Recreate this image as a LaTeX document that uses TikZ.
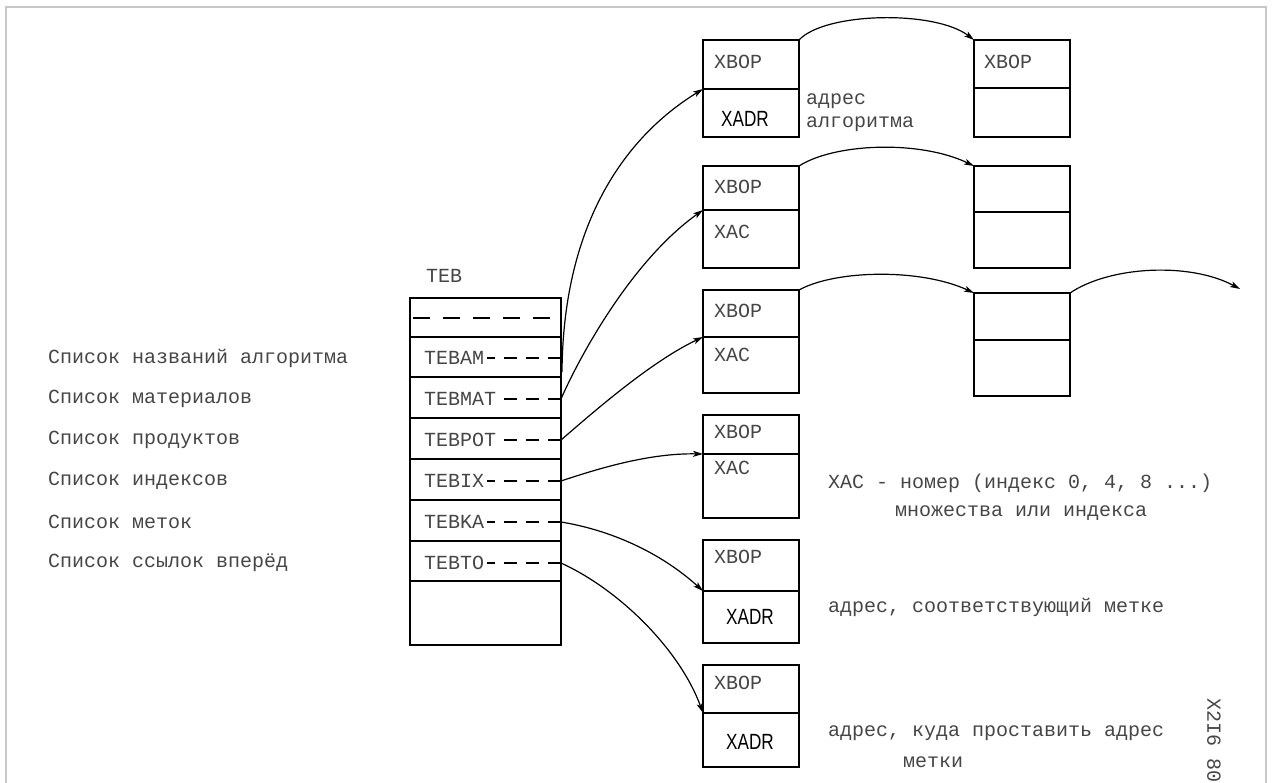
\documentclass[tikz,border=0pt]{standalone}
\usepackage{fontspec}
\setmainfont{Liberation Mono}
\newfontfamily\handfont{Liberation Sans}
\usetikzlibrary{arrows.meta}
\definecolor{framegray}{RGB}{200,200,200}
\definecolor{typeink}{RGB}{70,70,70}
\newcommand\mkcell[5]{%
  \pgfmathsetmacro\hA{#4-#3}\pgfmathsetmacro\hB{#5-#4}%
  \node[cell, minimum height=\hA pt] (#1t) at (#2,#3) {};
  \node[cell, minimum height=\hB pt] (#1b) at (#2,#4) {};}
\begin{document}
\begin{tikzpicture}[x=1pt,y=-1pt,
  cell/.style={draw, line width=1.5pt, minimum width=96pt, inner sep=0pt, outer sep=0pt, anchor=north west},
  tw/.style={font=\fontsize{20}{22}\selectfont, text=typeink, inner sep=0pt, anchor=west},
  hand/.style={font=\handfont\fontsize{22}{24}\selectfont, xscale=0.78, inner sep=0pt},
  link/.style={line width=1.2pt, -{Stealth[length=10pt,width=6pt,inset=2.5pt]}},
  tebline/.style={line width=1.5pt},
  tebdash/.style={line width=1.4pt, dash pattern=on 13pt off 9pt}
]
\useasboundingbox (0,0) rectangle (1273,783);
% frame
\draw[line width=2pt, framegray] (6,783) -- (6,7) -- (1266,7) -- (1266,783);

% TEB table
\node[tw] (teblbl) at (426,276) {TEB};
\node[draw, tebline, minimum width=151pt, minimum height=347pt, inner sep=0pt, outer sep=0pt, anchor=north west] (teb) at (410,298) {};
\draw[tebline, dash pattern=on 17pt off 13pt] (413,318) -- (561,318);
\foreach \yy in {337,377,418,459,500,541,581} \draw[tebline] (410,\yy) -- (561,\yy);
\node[tw] (tam)  at (424,358) {TEBAM};
\node[tw] (tmat) at (424,399) {TEBMAT};
\node[tw] (tpot) at (424,440) {TEBPOT};
\node[tw] (tix)  at (424,481) {TEBIX};
\node[tw] (tka)  at (424,522) {TEBKA};
\node[tw] (tto)  at (424,563) {TEBTO};
\foreach \n in {tam,tmat,tpot,tix,tka,tto}
  \draw[tebdash] (teb.east |- \n.east) -- ([xshift=3pt]\n.east);

% left labels
\node[tw] (l1) at (48,358) {Список названий алгоритма};
\node[tw] (l2) at (48,399) {Список материалов};
\node[tw] (l3) at (48,440) {Список продуктов};
\node[tw] (l4) at (48,481) {Список индексов};
\node[tw] (l5) at (48,522) {Список меток};
\node[tw] (l6) at (48,563) {Список ссылок вперёд};

% boxes, column 1
\mkcell{b1}{703}{40}{89}{137}
\mkcell{b2}{703}{166}{210}{268}
\mkcell{b3}{703}{290}{337}{393}
\mkcell{b4}{703}{415}{454}{518}
\mkcell{b5}{703}{540}{591}{643}
\mkcell{b6}{703}{665}{713}{767}
% column 2
\mkcell{c1}{974}{40}{88}{137}
\mkcell{c2}{974}{166}{212}{268}
\mkcell{c3}{974}{293}{340}{396}

% box texts
\node[tw] (x1) at (714,62) {XBOP};
\node[tw] (x2) at (714,187) {XBOP};
\node[tw] (x3) at (714,311) {XBOP};
\node[tw] (x4) at (714,432) {XBOP};
\node[tw] (x5) at (714,557) {XBOP};
\node[tw] (x6) at (714,683) {XBOP};
\node[tw] (y1) at (984,62) {XBOP};
\node[tw] (z2) at (714,232) {XAC};
\node[tw] (z3) at (714,355) {XAC};
\node[tw] (z4) at (714,468) {XAC};
\node[hand] (h1) at (745,119) {XADR};
\node[hand] (h5) at (750,617) {XADR};
\node[hand] (h6) at (750,742) {XADR};

% right texts
\node[tw] (r1a) at (806,101) {адрес};
\node[tw] (r1b) at (806,124) {алгоритма};
\node[tw] (r4a) at (828,483) {ХАС - номер (индекс 0, 4, 8 ...)};
\node[tw] (r4b) at (895,513) {множества или индекса};
\node[tw] (r5)  at (828,607) {адрес, соответствующий метке};
\node[tw] (r6a) at (828,733) {адрес, куда проставить адрес};
\node[tw] (r6b) at (903,762) {метки};
\node[tw, rotate=-90] (code) at (1214,698) {Х2I6 80};

% connectors from TEB
\coordinate (s1) at (562,372);
\draw[link] (s1) .. controls (563,230) and (620,140) .. (b1b.north west);
\draw[link] (teb.east |- tmat.east) .. controls (578,360) and (630,262) .. (b2b.north west);
\draw[link] (teb.east |- tpot.east) .. controls (590,415) and (650,362) .. (b3b.north west);
\draw[link] (teb.east |- tix.east) .. controls (600,468) and (650,453) .. (b4b.north west);
\draw[link] (teb.east |- tka.east) .. controls (610,530) and (660,552) .. (b5b.north west);
\draw[link] (teb.east |- tto.east) .. controls (620,590) and (680,650) .. (b6b.north west);

% chain arcs
\draw[link] (b1t.north east) .. controls (825,12) and (935,10) .. (c1t.north west);
\draw[link] (b2t.north east) .. controls (835,143) and (920,140) .. (c2t.north west);
\draw[link] (b3t.north east) .. controls (835,270) and (920,268) .. (c3t.north west);
\coordinate (cend) at (1240,289);
\draw[link] (c3t.north east) .. controls (1110,266) and (1190,262) .. (cend);
\end{tikzpicture}
\end{document}
